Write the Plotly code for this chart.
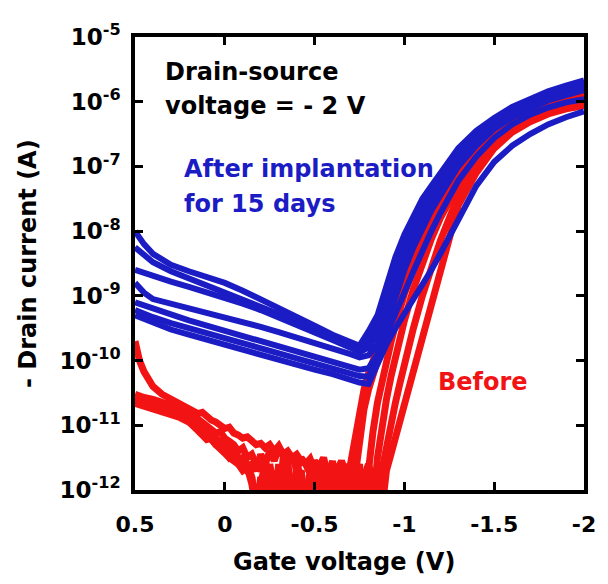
import plotly.graph_objects as go

# ---------------- data ----------------
# gate voltage grid for the "after implantation" (blue) curves, V
gate_v_after = [0.5, 0.45, 0.4, 0.3, 0.2, 0.1, 0.0, -0.1, -0.2, -0.3, -0.4, -0.5, -0.6, -0.7, -0.75,
                -0.8, -0.85, -0.9, -0.95, -1.0, -1.05, -1.1, -1.15, -1.2, -1.3, -1.4, -1.5, -1.6, -1.7,
                -1.8, -1.9, -2.0]

# log10 of -drain current (A), after implantation for 15 days
after_1 = [-8.0, -8.2, -8.35, -8.52, -8.62, -8.71, -8.8, -8.92, -9.05, -9.18, -9.32, -9.46, -9.6, -9.72, -9.77, -9.55,
           -9.3, -8.85, -8.4, -8.05, -7.75, -7.5, -7.3, -7.1, -6.72, -6.45, -6.25, -6.08, -5.95, -5.84, -5.75, -5.67]
after_2 = [-8.25, -8.38, -8.48, -8.62, -8.73, -8.83, -8.93, -9.04, -9.16, -9.28, -9.4, -9.53, -9.66, -9.78, -9.83, -9.68,
           -9.42, -8.98, -8.52, -8.17, -7.86, -7.6, -7.39, -7.19, -6.79, -6.51, -6.3, -6.12, -5.99, -5.88, -5.79, -5.71]
after_3 = [-8.6, -8.65, -8.7, -8.78, -8.86, -8.94, -9.03, -9.12, -9.22, -9.33, -9.44, -9.56, -9.68, -9.8, -9.87, -9.8,
           -9.58, -9.12, -8.66, -8.3, -7.98, -7.71, -7.48, -7.27, -6.86, -6.56, -6.34, -6.16, -6.03, -5.92, -5.83, -5.75]
after_4 = [-8.8, -8.95, -9.05, -9.12, -9.18, -9.25, -9.32, -9.4, -9.48, -9.56, -9.64, -9.72, -9.8, -9.9, -9.95, -9.92,
           -9.75, -9.3, -8.84, -8.46, -8.12, -7.83, -7.58, -7.36, -6.93, -6.62, -6.38, -6.2, -6.07, -5.95, -5.86, -5.79]
after_5 = [-9.1, -9.15, -9.2, -9.3, -9.38, -9.46, -9.54, -9.62, -9.7, -9.78, -9.86, -9.94, -10.02, -10.1, -10.14, -10.12,
           -9.9, -9.45, -9.0, -8.6, -8.25, -7.95, -7.68, -7.45, -7.0, -6.68, -6.42, -6.24, -6.1, -5.98, -5.9, -5.82]
after_6 = [-9.22, -9.28, -9.33, -9.42, -9.5, -9.58, -9.66, -9.74, -9.82, -9.9, -9.98, -10.05, -10.12, -10.2, -10.24, -10.25,
           -10.0, -9.6, -9.25, -8.95, -8.62, -8.3, -8.0, -7.72, -7.22, -6.85, -6.56, -6.35, -6.2, -6.09, -6.01, -5.96]
after_7 = [-9.3, -9.36, -9.42, -9.52, -9.6, -9.68, -9.76, -9.84, -9.92, -10.0, -10.07, -10.14, -10.21, -10.3, -10.34, -10.36,
           -10.05, -9.75, -9.5, -9.28, -9.05, -8.82, -8.6, -8.35, -7.8, -7.3, -6.93, -6.68, -6.5, -6.35, -6.24, -6.15]

# gate voltage grid for the "before" (red) curves, V
gate_v_before = [0.5, 0.475, 0.45, 0.4, 0.35, 0.3, 0.25, 0.2,
                 0.175, 0.15, 0.125, 0.1, 0.075, 0.05, 0.025, 0.0, -0.025, -0.05, -0.075, -0.1, -0.125, -0.15, -0.175,
                 -0.2, -0.225, -0.25, -0.275, -0.3, -0.325, -0.35, -0.375, -0.4, -0.425, -0.45, -0.475, -0.5, -0.525,
                 -0.55, -0.575, -0.6, -0.625, -0.65, -0.675, -0.7, -0.725, -0.75, -0.775, -0.8, -0.825, -0.85, -0.875,
                 -0.9, -0.925, -0.95, -0.975, -1.0, -1.05, -1.1, -1.15, -1.2, -1.3, -1.4, -1.5, -1.6, -1.7, -1.8, -1.9, -2.0]

# log10 of -drain current (A), before implantation (values below 1e-12 fall off the axis)
before_1 = [-9.7, -10.0, -10.17, -10.4, -10.52, -10.6, -10.66, -10.74,
            -10.78, -10.82, -10.8, -10.88, -10.92, -10.95, -11.0, -11.05, -11.03, -11.12, -11.15, -11.2, -11.18, -11.25, -11.3,
            -11.28, -11.35, -11.3, -11.4, -11.32, -11.45, -11.4, -11.5, -11.45, -11.55, -11.6, -11.52, -11.7, -11.65, -11.8, -11.6, -11.75, -11.9, -12.3, -12.3,
            -11.6, -11.2, -10.8, -10.45, -10.2, -10.0, -9.8, -9.6, -9.4, -9.2, -9.02, -8.85, -8.68, -8.35, -8.05, -7.75, -7.48,
            -7.0, -6.64, -6.38, -6.2, -6.07, -5.98, -5.91, -5.85]
before_2 = [-10.52, -10.55, -10.57, -10.6, -10.64, -10.68, -10.72, -10.78,
            -10.85, -10.9, -10.95, -11.0, -11.05, -11.12, -11.1, -11.2, -11.25, -11.3, -11.4, -11.35, -11.5, -11.45, -11.6,
            -11.7, -11.55, -11.8, -12.3, -11.7, -11.9, -11.6, -12.3, -11.8, -11.7, -12.3, -11.85, -11.6, -12.3, -11.75, -11.9, -12.3, -11.7, -11.8, -12.3,
            -12.3, -11.8, -11.2, -10.75, -10.45, -10.2, -9.98, -9.78, -9.58, -9.38, -9.18, -8.98, -8.8, -8.45, -8.12, -7.82, -7.55,
            -7.07, -6.7, -6.43, -6.24, -6.11, -6.01, -5.94, -5.88]
before_3 = [-10.58, -10.6, -10.62, -10.66, -10.7, -10.74, -10.8, -10.86,
            -10.92, -11.0, -11.05, -11.1, -11.15, -11.2, -11.25, -11.3, -11.4, -11.35, -11.5, -11.55, -11.6, -11.8, -12.3,
            -11.8, -12.3, -11.6, -11.9, -12.3, -11.5, -11.75, -12.3, -11.6, -11.8, -12.3, -11.7, -12.3, -11.55, -11.8, -12.3, -11.65, -11.9, -12.3, -11.6,
            -11.8, -12.3, -11.7, -12.3,
            -11.6, -11.1, -10.65, -10.3, -10.0, -9.72, -9.45, -9.2, -8.97, -8.58, -8.22, -7.9, -7.62,
            -7.15, -6.78, -6.5, -6.3, -6.16, -6.06, -5.98, -5.92]
before_4 = [-10.62, -10.64, -10.66, -10.7, -10.74, -10.78, -10.84, -10.9,
            -10.95, -11.02, -11.1, -11.15, -11.22, -11.3, -11.38, -11.45, -11.5, -11.55, -11.6, -11.5, -11.7, -11.8, -12.3,
            -11.9, -11.6, -12.3, -11.7, -12.3, -11.8, -11.55, -12.3, -11.9, -11.7, -12.3, -12.3, -11.65, -11.9, -12.3, -11.8, -11.55, -12.3, -11.9, -11.7,
            -12.3, -11.85, -11.6, -12.3, -11.75, -12.3,
            -11.5, -11.0, -10.6, -10.25, -9.95, -9.65, -9.38, -8.9, -8.48, -8.12, -7.8,
            -7.28, -6.88, -6.58, -6.37, -6.22, -6.11, -6.03, -5.97]
before_5 = [-10.66, -10.68, -10.7, -10.74, -10.78, -10.82, -10.88, -10.95,
            -11.0, -11.08, -11.15, -11.22, -11.2, -11.3, -11.35, -11.4, -11.5, -11.45, -11.6, -11.7, -11.65, -11.9, -12.3,
            -12.3, -11.7, -11.95, -12.3, -11.6, -12.3, -11.85, -12.3, -11.7, -11.95, -12.3, -11.75, -12.3, -11.9, -11.65, -12.3, -12.3, -11.8, -11.6, -12.3,
            -11.9, -12.3, -11.7, -11.85, -12.3, -11.8, -12.3,
            -11.7, -11.3, -10.95, -10.65, -10.35, -10.05, -9.5, -9.0, -8.55, -8.15,
            -7.45, -7.0, -6.68, -6.45, -6.29, -6.17, -6.09, -6.03]
before_6 = [-10.55, -10.58, -10.61, -10.65, -10.7, -10.75, -10.8, -10.86,
            -10.9, -10.98, -11.05, -11.1, -11.18, -11.25, -11.3, -11.35, -11.45, -11.4, -11.55, -11.5, -11.65, -11.6, -11.7,
            -11.45, -11.6, -11.4, -11.55, -11.35, -11.5, -11.6, -11.45, -11.7, -11.5, -11.6, -11.75, -11.55, -11.65, -11.5, -11.8, -11.6, -11.7, -11.55, -11.75,
            -11.65, -11.9, -11.7, -11.8, -11.6, -11.85, -11.75, -12.3,
            -11.7, -11.45, -11.2, -10.95, -10.7, -10.15, -9.62, -9.1, -8.6,
            -7.6, -7.1, -6.72, -6.47, -6.31, -6.19, -6.11, -6.06]

after_curves = [after_1, after_2, after_3, after_4, after_5, after_6, after_7]
before_curves = [before_1, before_2, before_3, before_4, before_5, before_6]

# axis ticks
x_tick_vals = [0.5, 0, -0.5, -1, -1.5, -2]
x_tick_text = ["0.5", "0", "-0.5", "-1", "-1.5", "-2"]
y_tick_exps = [-12, -11, -10, -9, -8, -7, -6, -5]

for c in after_curves:
    assert len(c) == len(gate_v_after), len(c)
for c in before_curves:
    assert len(c) == len(gate_v_before), len(c)

# ---------------- figure ----------------
BLUE = "#1c1cc4"
RED = "#f21414"
FONT = "DejaVu Sans"

fig = go.Figure()
for c in before_curves:
    fig.add_trace(go.Scatter(x=gate_v_before, y=[10 ** v for v in c], mode="lines",
                             line=dict(color=RED, width=7), hoverinfo="skip"))
for c in after_curves:
    fig.add_trace(go.Scatter(x=gate_v_after, y=[10 ** v for v in c], mode="lines",
                             line=dict(color=BLUE, width=6), hoverinfo="skip"))

axis_common = dict(showline=True, linecolor="black", linewidth=3.5, mirror="ticks",
                   ticks="inside", ticklen=8, tickwidth=3, tickcolor="black",
                   showgrid=False, zeroline=False)

fig.update_xaxes(range=[0.5, -2], tickmode="array", tickvals=x_tick_vals, ticktext=x_tick_text,
                 tickfont=dict(family=FONT, size=22, color="black", weight="bold"),
                 ticklabelstandoff=12, **axis_common)
fig.update_yaxes(type="log", range=[-12, -5], tickmode="array",
                 tickvals=[10 ** e for e in y_tick_exps],
                 ticktext=["10<sup>%d</sup>" % e for e in y_tick_exps],
                 tickfont=dict(family=FONT, size=23, color="black", weight="bold"),
                 ticklabelstandoff=6, **axis_common)

# the page body keeps its default 8 px margin, so the figure is 8 px smaller
OFF = 8
W, H = 608 - OFF, 584 - OFF
L, R, T, B = 135 - OFF, 22, 32 - OFF, 94
pw, ph = W - L - R, H - T - B


def px(xp, yp):
    # xp, yp are page pixels
    return (xp - OFF - L) / pw, 1 - (yp - OFF - T) / ph


annots = [
    ("Drain-source", 163, 67, "black", "left", 0),
    ("voltage = - 2 V", 163, 102, "black", "left", 0),
    ("After implantation", 182, 165, BLUE, "left", 0),
    ("for 15 days", 182, 201, BLUE, "left", 0),
    ("Before", 437, 381, RED, "left", 0),
    ("Gate voltage (V)", 345, 563, "black", "center", 0),
    ("- Drain current (A)", 27, 261, "black", "center", -90),
]
for text, xp, yp, col, anchor, ang in annots:
    xx, yy = px(xp, yp)
    fig.add_annotation(text=text, x=xx, y=yy, xref="paper", yref="paper", showarrow=False,
                       xanchor=anchor, yanchor="middle", textangle=ang,
                       font=dict(family=FONT, size=24, color=col, weight="bold"))

fig.update_layout(width=W, height=H, margin=dict(l=L, r=R, t=T, b=B),
                  paper_bgcolor="white", plot_bgcolor="white", showlegend=False)

fig.write_html("out.html")
